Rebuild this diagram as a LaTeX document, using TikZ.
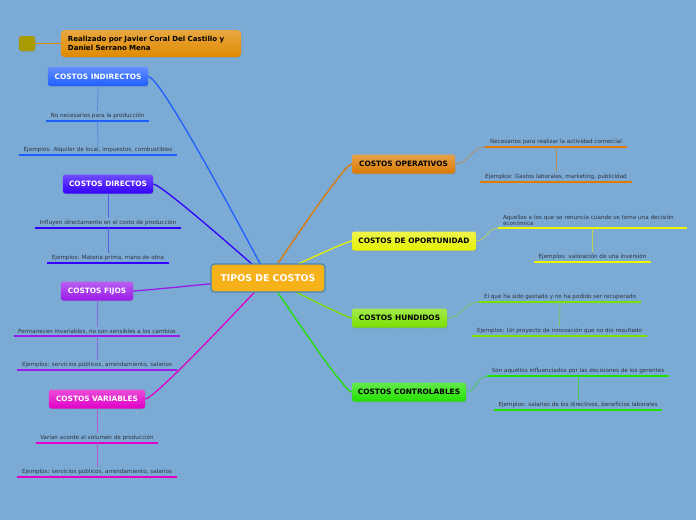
\documentclass[tikz,border=0pt]{standalone}
\usepackage{fontspec}
\setmainfont{DejaVu Sans}
\usetikzlibrary{shadows,backgrounds}

\definecolor{bgblue}{HTML}{7BAAD4}
\definecolor{dotblue}{HTML}{8FBADF}
\definecolor{txtgray}{HTML}{2E3440}
\definecolor{ctrfill}{HTML}{F8B219}
\definecolor{ctrline}{HTML}{3E86C0}
\definecolor{cind}{HTML}{1F5FFF}
\definecolor{cdir}{HTML}{3300FF}
\definecolor{cfij}{HTML}{9B1BEA}
\definecolor{cvar}{HTML}{E000C8}
\definecolor{cope}{HTML}{DC7A00}
\definecolor{copo}{HTML}{E6F000}
\definecolor{chun}{HTML}{7AE000}
\definecolor{ccon}{HTML}{22E000}
\definecolor{cauth}{HTML}{E08A00}
\definecolor{csq}{HTML}{A89A00}

\begin{document}
\begin{tikzpicture}[x=0.03cm, y=-0.03cm,
    main/.style={rounded corners=2pt, minimum height=0.57cm, inner sep=1pt,
        font=\fontsize{6.3}{7}\selectfont\bfseries, text=white,
        top color=#1!70!white, bottom color=#1,
        drop shadow={opacity=0.3, shadow xshift=0.6pt, shadow yshift=-0.8pt}},
    mainr/.style={main=#1, text=black},
    sub/.style={anchor=south, inner xsep=0pt, inner ysep=1.6pt,
        font=\fontsize{4.8}{5.8}\selectfont, text=txtgray},
    uline/.style={draw=#1, line width=1.6pt},
    branch/.style={draw=#1, line width=1.1pt},
    twig/.style={draw=#1, line width=0.6pt}
]
\useasboundingbox (0,0) rectangle (696,520);

% centre
\node[rounded corners=3pt, fill=ctrfill, draw=ctrline, line width=1pt,
    minimum width=3.42cm, minimum height=0.84cm, text=white,
    font=\fontsize{8}{9}\selectfont\bfseries] (ctr) at (268,278) {TIPOS DE COSTOS};

% author
\node[rounded corners=2pt, fill=csq, minimum width=0.48cm, minimum height=0.45cm,
    drop shadow={opacity=0.3, shadow xshift=0.6pt, shadow yshift=-0.8pt}] (sq) at (27,43.5) {};
\node[rounded corners=3pt, top color=cauth!75!white, bottom color=cauth,
    minimum height=0.81cm, text width=4.98cm, inner xsep=0.21cm, align=left,
    font=\fontsize{6}{7.2}\selectfont\bfseries,
    drop shadow={opacity=0.3, shadow xshift=0.6pt, shadow yshift=-0.8pt}] (auth) at (151,43.5)
    {Realizado por Javier Coral Del Castillo y\\Daniel Serrano Mena};
\draw[twig=cauth] (sq.east) -- (auth.west);

% left branches
\node[main=cind, minimum width=3.0cm] (ind) at (98,76.5) {COSTOS INDIRECTOS};
\node[main=cdir, minimum width=2.7cm] (dir) at (108,184) {COSTOS DIRECTOS};
\node[main=cfij, minimum width=2.16cm] (fij) at (97,291) {COSTOS FIJOS};
\node[main=cvar, minimum width=2.88cm] (var) at (97,399) {COSTOS VARIABLES};

\node[sub, minimum width=3.09cm] (ind1) at (97.5,121) {No necesarios para la producción};
\node[sub, minimum width=4.74cm] (ind2) at (98,155) {Ejemplos: Alquiler de local, impuestos, combustibles};
\node[sub, minimum width=4.38cm] (dir1) at (108,228) {Influyen directamente en el costo de producción};
\node[sub, minimum width=3.66cm] (dir2) at (108,263) {Ejemplos: Materia prima, mano de obra};
\node[sub, minimum width=4.98cm] (fij1) at (97,336) {Permanecen invariables, no son sensibles a los cambios};
\node[sub, minimum width=4.8cm] (fij2) at (97,370) {Ejemplos: servicios públicos, arrendamiento, salarios};
\node[sub, minimum width=3.66cm] (var1) at (97,443) {Varían acorde al volumen de producción};
\node[sub, minimum width=4.8cm] (var2) at (97,477) {Ejemplos: servicios públicos, arrendamiento, salarios};

% right branches
\node[mainr=cope, minimum width=3.09cm] (ope) at (403.5,164) {COSTOS OPERATIVOS};
\node[mainr=copo, minimum width=3.72cm] (opo) at (414,241) {COSTOS DE OPORTUNIDAD};
\node[mainr=chun, minimum width=2.85cm] (hun) at (399.5,318) {COSTOS HUNDIDOS};
\node[mainr=ccon, minimum width=3.42cm] (con) at (409,392) {COSTOS CONTROLABLES};

\node[sub, minimum width=4.26cm] (ope1) at (556,147) {Necesarios para realizar la actividad comercial};
\node[sub, minimum width=4.56cm] (ope2) at (556,182) {Ejemplos: Gastos laborales, marketing, publicidad};
\node[sub, text width=5.37cm, inner xsep=0.15cm, align=left] (opo1) at (592.5,228)
    {Aquellos a los que se renuncia cuando se toma una decisión\\económica};
\node[sub, minimum width=3.51cm] (opo2) at (592.5,262) {Ejemplos: valoración de una inversión};
\node[sub, minimum width=4.86cm] (hun1) at (560,302) {El que ha sido gastado y no ha podido ser recuperado};
\node[sub, minimum width=5.25cm] (hun2) at (559.5,336) {Ejemplos: Un proyecto de innovación que no dio resultado};
\node[sub, minimum width=5.46cm] (con1) at (578,376) {Son aquellos influenciados por las decisiones de los gerentes};
\node[sub, minimum width=5.04cm] (con2) at (578,410) {Ejemplos: salarios de los directivos, beneficios laborales};

% underlines
\foreach \n/\c in {ind1/cind, ind2/cind, dir1/cdir, dir2/cdir, fij1/cfij, fij2/cfij,
    var1/cvar, var2/cvar, ope1/cope!80!orange, ope2/cope!80!orange, opo1/copo!70!yellow,
    opo2/copo!70!yellow, hun1/chun, hun2/chun, con1/ccon, con2/ccon}
    \draw[uline=\c] (\n.south west) -- (\n.south east);

% background and connectors from centre
\begin{scope}[on background layer]
    \fill[bgblue] (0,0) rectangle (696,520);
    \foreach \i in {0,...,63}{
        \foreach \j in {0,...,47}{
            \fill[dotblue] (\i*11+5,\j*11+5) circle (0.5pt);
        }
    }
    \draw[branch=cind] (ctr.center) to[out=120.7, in=0, looseness=0.15] (ind.east);
    \draw[branch=cdir] (ctr.center) to[out=140.7, in=0, looseness=0.15] (dir.east);
    \draw[branch=cfij] (ctr.center) to[out=185.5, in=0, looseness=0.15] (fij.east);
    \draw[branch=cvar] (ctr.center) to[out=224.5, in=0, looseness=0.15] (var.east);
    \draw[branch=cope] (ctr.center) to[out=53.6, in=180, looseness=0.15] (ope.west);
    \draw[branch=copo] (ctr.center) to[out=23.8, in=180, looseness=0.15] (opo.west);
    \draw[branch=chun] (ctr.center) to[out=-25.5, in=180, looseness=0.15] (hun.west);
    \draw[branch=ccon] (ctr.center) to[out=-53.6, in=180, looseness=0.15] (con.west);
\end{scope}

% left stems
\draw[twig=cind!45!bgblue] (ind.south) -- (ind1.north);
\draw[twig=cind!45!bgblue] (ind1.south) -- (ind2.north);
\draw[twig=cdir!45!bgblue] (dir.south) -- (dir1.north);
\draw[twig=cdir!45!bgblue] (dir1.south) -- (dir2.north);
\draw[twig=cfij!45!bgblue] (fij.south) -- (fij1.north);
\draw[twig=cfij!45!bgblue] (fij1.south) -- (fij2.north);
\draw[twig=cvar!45!bgblue] (var.south) -- (var1.north);
\draw[twig=cvar!45!bgblue] (var1.south) -- (var2.north);

% right stems
\draw[twig=cope!60!bgblue] (ope.east) to[out=0, in=180] (ope1.south west);
\draw[twig=cope!60!bgblue] (ope1.south) -- (ope2.north);
\draw[twig=copo!60!bgblue] (opo.east) to[out=0, in=180] (opo1.south west);
\draw[twig=copo!60!bgblue] (opo1.south) -- (opo2.north);
\draw[twig=chun!60!bgblue] (hun.east) to[out=0, in=180] (hun1.south west);
\draw[twig=chun!60!bgblue] (hun1.south) -- (hun2.north);
\draw[twig=ccon!60!bgblue] (con.east) to[out=0, in=180] (con1.south west);
\draw[twig=ccon!60!bgblue] (con1.south) -- (con2.north);
\end{tikzpicture}
\end{document}
